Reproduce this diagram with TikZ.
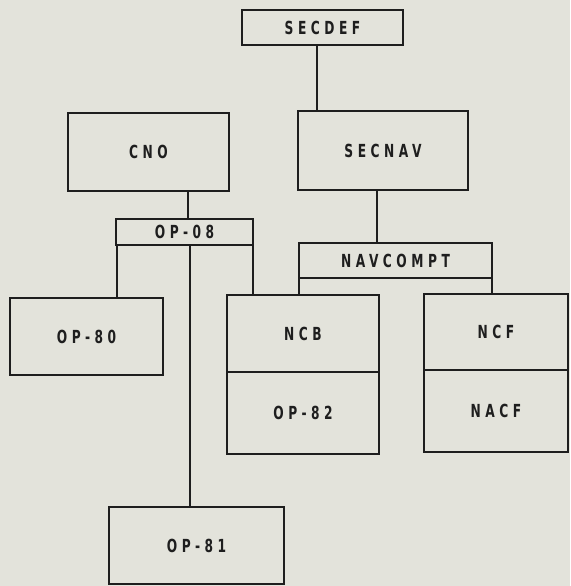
\documentclass[tikz,border=0pt]{standalone}
\usepackage{fontspec}
\newfontfamily\lab{DejaVu Sans Bold}[FakeStretch=0.68,LetterSpace=25]
\definecolor{paper}{HTML}{E3E3DB}
\definecolor{ink}{HTML}{1E1E1E}
\begin{document}
\begin{tikzpicture}[x=1pt,y=-1pt,
  box/.style={draw=ink,line width=1.6pt,inner sep=0pt,outer sep=0pt,font=\lab\fontsize{18}{20}\selectfont,text=ink},
  link/.style={draw=ink,line width=1.4pt}]
\fill[paper] (0,0) rectangle (570,586);
\useasboundingbox (0,0) rectangle (570,586);
\node[box,minimum width=161,minimum height=35] (SECDEF) at (322.5,27.5) {SECDEF};
\node[box,minimum width=161,minimum height=78] (CNO) at (148.5,152) {CNO};
\node[box,minimum width=170,minimum height=79] (SECNAV) at (383,150.5) {SECNAV};
\node[box,minimum width=137,minimum height=26] (OP08) at (184.5,232) {OP-08};
\node[box,minimum width=193,minimum height=35] (NAVCOMPT) at (395.5,260.5) {NAVCOMPT};
\node[box,minimum width=153,minimum height=77] (OP80) at (86.5,336.5) {OP-80};
\node[box,minimum width=152,minimum height=77] (NCB) at (303,333.5) {NCB};
\node[box,minimum width=152,minimum height=82] (OP82) at (303,413) {OP-82};
\node[box,minimum width=144,minimum height=76] (NCF) at (496,332) {NCF};
\node[box,minimum width=144,minimum height=82] (NACF) at (496,411) {NACF};
\node[box,minimum width=175,minimum height=77] (OP81) at (196.5,545.5) {OP-81};
\draw[link] ([xshift=-5.5]SECDEF.south) -- ([xshift=-5.5]SECDEF.south |- SECNAV.north);
\draw[link] ([xshift=3.5]OP08.north) -- ([xshift=3.5]OP08.north |- CNO.south);
\draw[link] ([xshift=1]OP08.south west) -- ([xshift=1]OP08.south west |- OP80.north);
\draw[link] ([xshift=5.5]OP08.south) -- ([xshift=5.5]OP08.south |- OP81.north);
\draw[link] (OP08.south east) -- (OP08.south east |- NCB.north);
\draw[link] ([xshift=-6]SECNAV.south) -- ([xshift=-6]SECNAV.south |- NAVCOMPT.north);
\draw[link] (NAVCOMPT.south west) -- (NAVCOMPT.south west |- NCB.north);
\draw[link] (NAVCOMPT.south east) -- (NAVCOMPT.south east |- NCF.north);
\end{tikzpicture}
\end{document}
